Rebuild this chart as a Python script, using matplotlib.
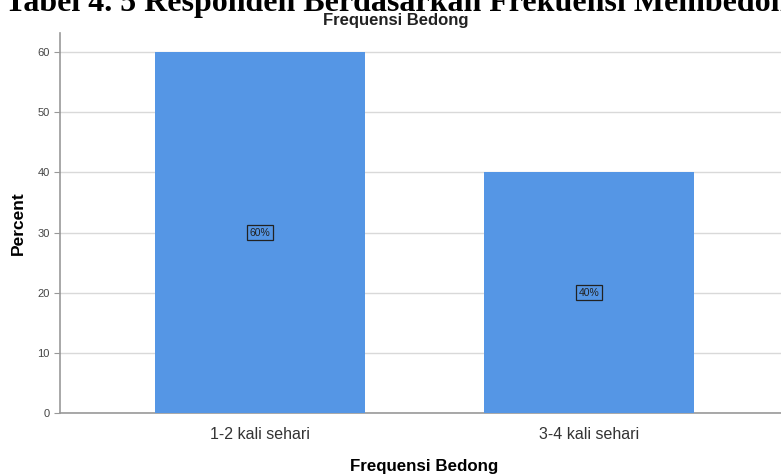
import numpy as np
import matplotlib.pyplot as plt

# data
categories = ['1-2 kali sehari', '3-4 kali sehari']
percent = [60, 40]
yticks = [0, 10, 20, 30, 40, 50, 60]

fig = plt.figure(figsize=(7.81, 4.74), dpi=100)
ax = fig.add_axes([60 / 781, 61 / 474, 729 / 781, 380 / 474])

x = np.arange(len(categories))
ax.bar(x, percent, width=0.637, color='#5596e5', zorder=3)

# labels in the middle of bars
for xi, v in zip(x, percent):
    ax.text(xi, v / 2, f'{v}%', ha='center', va='center', fontsize=7.5,
            family='Liberation Sans', color='#222222', zorder=4,
            bbox=dict(boxstyle='square,pad=0.25', fc='none', ec='#222222', lw=0.9))

ax.set_xlim(-0.607, 1.607)
ax.set_ylim(0, 63.2)
ax.set_yticks(yticks)
ax.set_xticks(x)
ax.set_xticklabels(categories, fontsize=11.5, family='Liberation Sans', color='#333333')
ax.tick_params(axis='y', labelsize=8, labelcolor='#444444', length=4, color='#999999')
ax.tick_params(axis='x', length=0, pad=10)
for lab in ax.get_yticklabels():
    lab.set_family('Liberation Sans')

ax.grid(axis='y', color='#d9d9d9', lw=1, zorder=0)
for s in ['top', 'right']:
    ax.spines[s].set_visible(False)
ax.spines['left'].set_color('#999999')
ax.spines['bottom'].set_color('#999999')
ax.spines['left'].set_linewidth(1.2)
ax.spines['bottom'].set_linewidth(1.2)

ax.set_ylabel('Percent', fontsize=12.5, fontweight='bold', family='Liberation Sans', labelpad=8)
ax.set_xlabel('Frequensi Bedong', fontsize=12.2, fontweight='bold', family='Liberation Sans', labelpad=12)

fig.text(396 / 781, 1 - 21 / 474, 'Frequensi Bedong', ha='center', va='center',
         fontsize=12, fontweight='bold', family='Liberation Sans', color='#222222')

# caption cut off at the top of the picture
fig.text(5 / 781, 1 - 11 / 474, 'Tabel 4. 5 Responden Berdasarkan Frekuensi Membedong',
         ha='left', va='baseline', fontsize=23, fontweight='bold', family='Liberation Serif')

fig.savefig('out.png', dpi=100)
